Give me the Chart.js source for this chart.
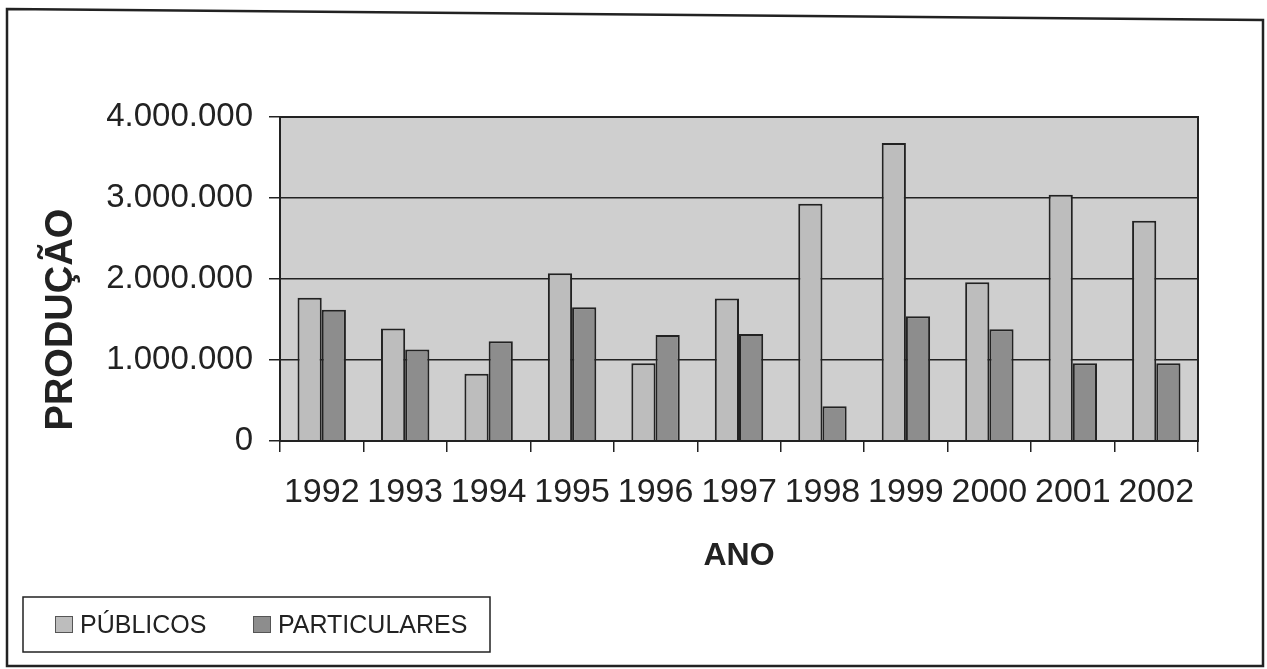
<!DOCTYPE html>
<html lang="pt">
<head>
<meta charset="utf-8">
<title>Produção por ano</title>
<script src="https://cdn.jsdelivr.net/npm/chart.js@4.4.1/dist/chart.umd.min.js"></script>
<style>
  html, body { margin: 0; padding: 0; background: #ffffff; }
  #wrap { width: 1267px; height: 669px; position: relative; }
</style>
</head>
<body>
<div id="wrap"><canvas id="chart" width="1267" height="669"></canvas></div>
<script>
// Produção anual (unidades), por tipo de estabelecimento
const anos = ['1992','1993','1994','1995','1996','1997','1998','1999','2000','2001','2002'];
const publicos = [1770000, 1390000, 830000, 2070000, 960000, 1760000, 2930000, 3680000, 1960000, 3040000, 2720000];
const particulares = [1620000, 1130000, 1230000, 1650000, 1310000, 1320000, 430000, 1540000, 1380000, 960000, 960000];
const yTicks = [0, 1000000, 2000000, 3000000, 4000000];

const INK = '#222222';
const FONT = '"Liberation Sans", Arial, Helvetica, sans-serif';

function milhar(v) {
  return String(Math.round(v)).replace(/\B(?=(\d{3})+(?!\d))/g, '.');
}

// Fundo cinza da área de plotagem
const plotBackground = {
  id: 'plotBackground',
  beforeDraw(chart) {
    const { ctx, chartArea: a } = chart;
    ctx.save();
    ctx.fillStyle = '#cfcfcf';
    ctx.fillRect(a.left, a.top, a.right - a.left, a.bottom - a.top);
    ctx.restore();
  }
};

// Moldura externa, contorno da área de plotagem e legenda em caixa
const frameAndLegend = {
  id: 'frameAndLegend',
  afterDraw(chart) {
    const { ctx, chartArea: a } = chart;
    ctx.save();
    ctx.strokeStyle = INK;
    // contorno da área de plotagem
    ctx.lineWidth = 2;
    ctx.strokeRect(a.left, a.top, a.right - a.left, a.bottom - a.top);
    // moldura externa
    ctx.lineWidth = 2.5;
    ctx.beginPath();
    ctx.moveTo(7, 9);
    ctx.lineTo(1263, 20);
    ctx.lineTo(1263, 666);
    ctx.lineTo(7, 666);
    ctx.closePath();
    ctx.stroke();
    // caixa da legenda
    ctx.lineWidth = 1.5;
    ctx.strokeRect(23, 597, 467, 55);
    // itens da legenda
    const items = chart.data.datasets;
    const xs = [55, 253];
    ctx.font = '25px ' + FONT;
    ctx.textBaseline = 'middle';
    ctx.textAlign = 'left';
    items.forEach((ds, i) => {
      const x = xs[i];
      ctx.fillStyle = ds.backgroundColor;
      ctx.fillRect(x, 616, 18, 17);
      ctx.lineWidth = 1;
      ctx.strokeStyle = '#555555';
      ctx.strokeRect(x + 0.5, 616.5, 17, 16);
      ctx.fillStyle = INK;
      ctx.fillText(ds.label, x + 25, 626);
    });
    ctx.restore();
  }
};

new Chart(document.getElementById('chart'), {
  type: 'bar',
  data: {
    labels: anos,
    datasets: [
      {
        label: 'PÚBLICOS',
        data: publicos,
        backgroundColor: '#bdbdbd',
        borderColor: INK,
        borderWidth: 2,
        borderSkipped: 'bottom'
      },
      {
        label: 'PARTICULARES',
        data: particulares,
        backgroundColor: '#8d8d8d',
        borderColor: INK,
        borderWidth: 2,
        borderSkipped: 'bottom'
      }
    ]
  },
  options: {
    responsive: false,
    animation: false,
    devicePixelRatio: 1,
    layout: { padding: { top: 117, right: 69, bottom: 94, left: 10 } },
    datasets: { bar: { categoryPercentage: 0.58, barPercentage: 1.0 } },
    plugins: {
      legend: { display: false },
      tooltip: { enabled: false },
      title: { display: false }
    },
    scales: {
      x: {
        offset: true,
        grid: {
          offset: true,
          drawOnChartArea: false,
          drawTicks: true,
          tickLength: 11,
          color: INK,
          lineWidth: 1.5
        },
        border: { display: true, color: INK, width: 2 },
        ticks: {
          autoSkip: false,
          maxRotation: 0,
          minRotation: 0,
          padding: 20,
          color: INK,
          font: { family: FONT, size: 34 }
        },
        title: {
          display: true,
          text: 'ANO',
          color: INK,
          font: { family: FONT, size: 32, weight: 'bold' },
          padding: { top: 26, bottom: 0 }
        },
        afterFit(scale) { scale.height = 134; }
      },
      y: {
        min: 0,
        max: 4000000,
        afterBuildTicks(scale) { scale.ticks = yTicks.map(v => ({ value: v })); },
        grid: {
          drawTicks: true,
          tickLength: 11,
          color: INK,
          lineWidth: 1.5
        },
        border: { display: true, color: INK, width: 2 },
        ticks: {
          padding: 16,
          color: INK,
          font: { family: FONT, size: 33 },
          callback: (v) => milhar(v)
        },
        title: {
          display: true,
          text: ' PRODUÇÃO',
          align: 'start',
          color: INK,
          font: { family: FONT, size: 38, weight: 'bold' },
          padding: { top: 29, bottom: 0 }
        },
        afterFit(scale) { scale.width = 270; }
      }
    }
  },
  plugins: [plotBackground, frameAndLegend]
});
</script>
</body>
</html>
